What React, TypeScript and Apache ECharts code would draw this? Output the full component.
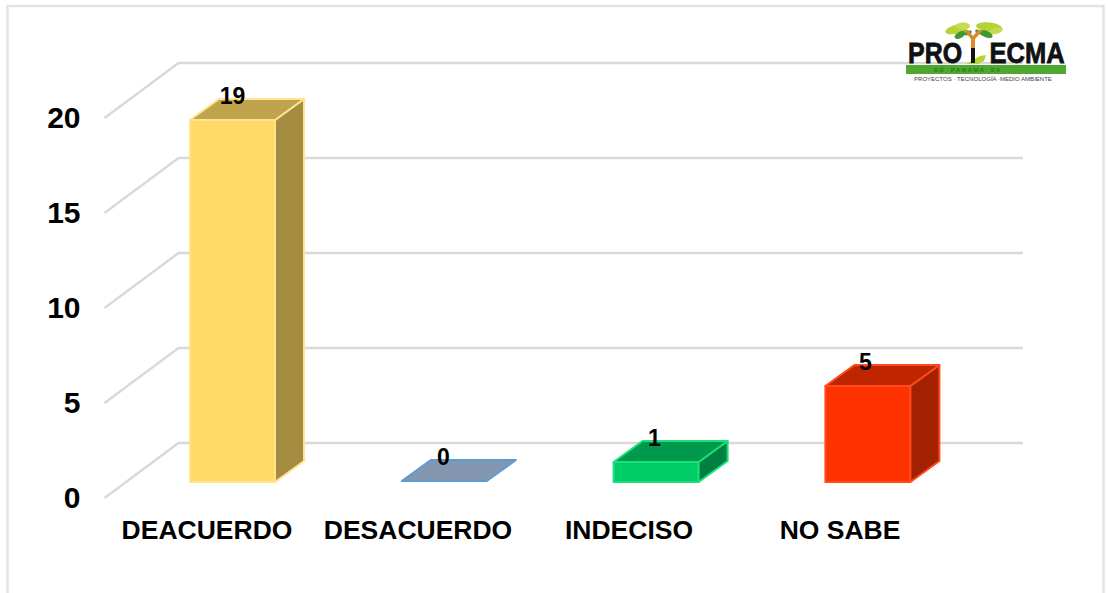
import React, { useEffect, useRef } from "react";
import * as echarts from "echarts";

const categories = ["DEACUERDO", "DESACUERDO", "INDECISO", "NO SABE"];
const responses = [19, 0, 1, 5];
const yTicks = [0, 5, 10, 15, 20];

const frontColors = ["#FFD966", "#8497B0", "#00CC66", "#FF3300"];
const topColors = ["#BFA34D", "#8497B0", "#00994D", "#BF2600"];
const sideColors = ["#A38B40", "#6F8096", "#008040", "#A32100"];
const edgeColors = ["#FFE38F", "#5B9BD5", "#19E07A", "#FF4A1C"];

const FONT = '"Liberation Sans", Arial, sans-serif';
const DX = 29;
const DY = 21;
const BAR_W = 85;

function renderGrid(params: any, api: any) {
  const p = api.coord([0, api.value(1)]);
  const cs = params.coordSys;
  const x0 = cs.x + 3;
  const y0 = p[1] + 0.5;
  return {
    type: "polyline",
    shape: { points: [[x0, y0], [x0 + 74, y0 - 55], [1023, y0 - 55]] },
    style: { stroke: "#D9D9D9", lineWidth: 2.4, fill: "none" },
  };
}

function renderBar(_params: any, api: any) {
  const i = api.value(0);
  const v = api.value(1);
  const base = api.coord([i, 0]);
  const top = api.coord([i, v]);
  const xL = base[0] + 25.5 + 0.8 * i - BAR_W / 2;
  const xR = xL + BAR_W;
  const yB = base[1] - 15.5;
  const yT = top[1] - 16.5;
  const edge = { stroke: edgeColors[i], lineWidth: 2, lineJoin: "round" };
  const children: any[] = [];
  if (v > 0) {
    children.push({
      type: "polygon",
      shape: { points: [[xL, yB], [xR, yB], [xR, yT], [xL, yT]] },
      style: { fill: frontColors[i], ...edge },
    });
    children.push({
      type: "polygon",
      shape: { points: [[xR, yB], [xR + DX, yB - DY], [xR + DX, yT - DY], [xR, yT]] },
      style: { fill: sideColors[i], ...edge },
    });
  }
  children.push({
    type: "polygon",
    shape: { points: [[xL, yT], [xR, yT], [xR + DX, yT - DY], [xL + DX, yT - DY]] },
    style: { fill: topColors[i], ...edge },
  });
  children.push({
    type: "text",
    style: {
      text: String(v),
      x: base[0] + 25.5,
      y: yT - DY - 3,
      fill: "#000",
      font: `bold 23px ${FONT}`,
      align: "center",
      verticalAlign: "middle",
    },
  });
  return { type: "group", children };
}

function leaf(cx: number, cy: number, rx: number, ry: number, rot: number, fill: string) {
  return { type: "ellipse", x: cx, y: cy, rotation: rot, shape: { cx: 0, cy: 0, rx, ry }, style: { fill }, z: 10 };
}

function logoText(text: string, x: number, y: number, font: string, fill: string, scaleX = 1, heavy = 0) {
  return {
    type: "text",
    x,
    y,
    scaleX,
    z: 12,
    style: { text, x: 0, y: 0, font, fill, align: "left", verticalAlign: "middle", stroke: heavy ? fill : "transparent", lineWidth: heavy },
  };
}

const logo = [
  leaf(957, 29, 12, 4.5, 0.25, "#B5D334"),
  leaf(963, 26, 7, 3.5, 0, "#C4DC52"),
  leaf(989, 27, 13, 4.5, -0.1, "#B5D334"),
  leaf(996, 31, 7, 3, 0.3, "#C4DC52"),
  leaf(960, 35, 6, 3, 0.5, "#3E9A2E"),
  leaf(968, 33, 4, 2, 0.4, "#3E9A2E"),
  leaf(986, 34, 7, 3.2, -0.4, "#3E9A2E"),
  leaf(979, 32, 4, 2, -0.4, "#3E9A2E"),
  { type: "polygon", z: 11, shape: { points: [[971, 50], [975, 50], [975, 39], [983, 30], [978, 30], [973, 36], [968, 30], [964, 30], [971, 39]] }, style: { fill: "#D98A2B" } },
  { type: "rect", z: 12, shape: { x: 971, y: 48, width: 4, height: 15 }, style: { fill: "#111" } },
  { type: "polygon", z: 11, shape: { points: [[966, 64], [980, 56], [986, 55], [984, 61], [978, 64]] }, style: { fill: "#B5D334" } },
  logoText("PRO", 908, 53, `bold 29px ${FONT}`, "#111", 0.86, 0.8),
  logoText("ECMA", 989.5, 53, `bold 29px ${FONT}`, "#111", 0.88, 0.8),
  { type: "rect", z: 11, shape: { x: 906, y: 65, width: 160, height: 9 }, style: { fill: "#4EA72E" } },
  logoText("D E    P A N A M A    S A", 934, 70, `bold 6px ${FONT}`, "#2F7A1E"),
  logoText("PROYECTOS · TECNOLOGÍA ·MEDIO AMBIENTE", 914, 79.5, `5.5px ${FONT}`, "#444", 1.1),
];

export default function App() {
  const ref = useRef<HTMLDivElement>(null);
  useEffect(() => {
    document.body.style.margin = "0";
    const chart = echarts.init(ref.current!, undefined, { renderer: "svg" });
    chart.setOption({
      animation: false,
      backgroundColor: "#fff",
      grid: { left: 101.5, top: 117.5, width: 844, height: 380, containLabel: false },
      xAxis: {
        type: "category",
        data: categories,
        axisLine: { show: false },
        axisTick: { show: false },
        axisLabel: { color: "#000", fontFamily: FONT, fontWeight: "bold", fontSize: 26.5, margin: 19, interval: 0 },
      },
      yAxis: {
        type: "value",
        min: 0,
        max: 20,
        interval: 5,
        axisLine: { show: false },
        axisTick: { show: false },
        splitLine: { show: false },
        axisLabel: { color: "#000", fontFamily: FONT, fontWeight: "bold", fontSize: 30, margin: 21 },
      },
      series: [
        { type: "custom", name: "grid", silent: true, z: 1, renderItem: renderGrid, data: yTicks.map((t) => [0, t]) },
        { type: "custom", name: "responses", z: 2, renderItem: renderBar, data: responses.map((v, i) => [i, v]) },
      ],
      graphic: [
        {
          type: "polyline",
          z: 0,
          shape: { points: [[7.5, 593], [7.5, 6], [1103.5, 6], [1103.5, 593]] },
          style: { stroke: "#E3E3E3", lineWidth: 2.5, fill: "none" },
        },
        ...logo,
      ],
    });
    return () => chart.dispose();
  }, []);
  return <div ref={ref} style={{ position: "fixed", left: 0, top: 0, width: 1108, height: 593 }} />;
}
